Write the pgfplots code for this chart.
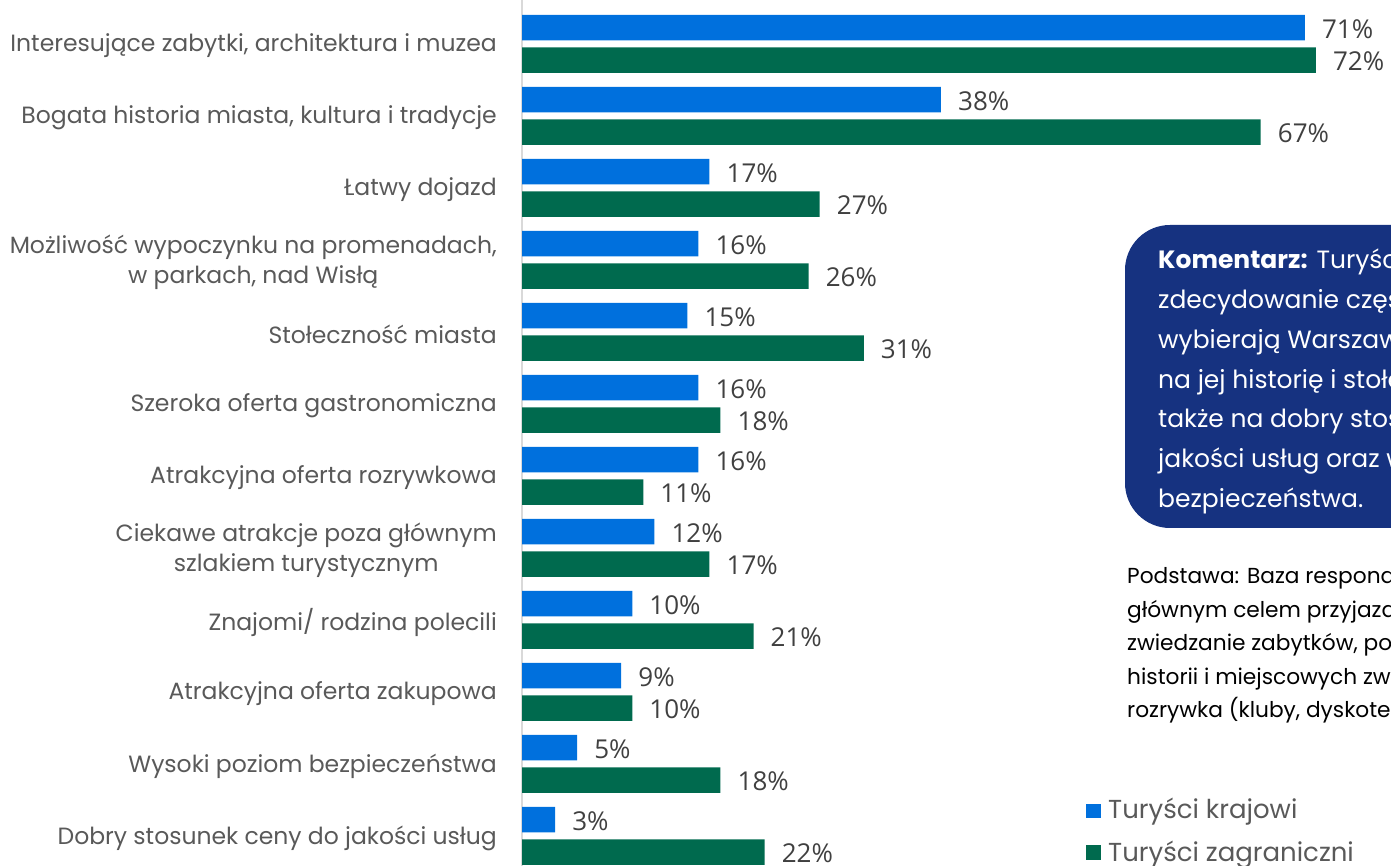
\documentclass[border=0pt]{standalone}
\usepackage{fontspec}
\setmainfont{Poppins}
\newfontfamily\numfont{Open Sans}
\usepackage{pgfplots}
\pgfplotsset{compat=1.18}
\definecolor{blueb}{RGB}{0,112,221}
\definecolor{greenb}{RGB}{0,106,78}
\definecolor{navy}{RGB}{22,50,128}
\definecolor{labelgray}{RGB}{89,89,89}
\definecolor{numgray}{RGB}{64,64,64}
\begin{document}
\begin{tikzpicture}[x=1pt,y=1pt]
\useasboundingbox (0,0) rectangle (1391,866);
\clip (0,0) rectangle (1391,866);
\begin{axis}[
  at={(522pt,0pt)}, anchor=south west,
  scale only axis, width=860pt, height=866pt,
  xbar, bar width=25.5pt,
  xmin=0, xmax=78, ymin=-0.4167, ymax=11.611,
  hide x axis, axis y line*=left,
  y axis line style={draw=black!15, line width=2pt},
  ytick={0,...,11}, major tick length=0pt,
  yticklabels={
    Dobry stosunek ceny do jakości usług,
    Wysoki poziom bezpieczeństwa,
    Atrakcyjna oferta zakupowa,
    Znajomi/ rodzina polecili,
    {Ciekawe atrakcje poza głównym\\szlakiem turystycznym},
    Atrakcyjna oferta rozrywkowa,
    Szeroka oferta gastronomiczna,
    Stołeczność miasta,
    {Możliwość wypoczynku na promenadach,\\w parkach, nad Wisłą},
    Łatwy dojazd,
    {Bogata historia miasta, kultura i tradycje},
    {Interesujące zabytki, architektura i muzea}},
  yticklabel style={align=center, anchor=east, inner sep=0pt, xshift=-25pt, yshift=-2pt,
    text=labelgray, font=\fontsize{23.5}{30}\selectfont},
  point meta=x,
  /pgf/number format/assume math mode=true,
  nodes near coords={\pgfmathprintnumber{\pgfplotspointmeta}\%},
  nodes near coords style={anchor=west, inner sep=0pt, xshift=17pt, yshift=-1pt,
    text=numgray, font=\numfont\fontsize{26}{30}\selectfont},
]
% Turyści krajowi
\addplot[fill=blueb, draw=none, bar shift=16.25pt] coordinates {
  (3,0) (5,1) (9,2) (10,3) (12,4) (16,5) (16,6) (15,7) (16,8) (17,9) (38,10) (71,11)};
% Turyści zagraniczni
\addplot[fill=greenb, draw=none, bar shift=-16.25pt] coordinates {
  (22,0) (18,1) (10,2) (21,3) (17,4) (11,5) (18,6) (31,7) (26,8) (27,9) (67,10) (72,11)};
\end{axis}

% comment box
\fill[navy, rounded corners=45pt] (1125,338) rectangle (1460,641);
\begin{scope}[every node/.style={anchor=base west, inner sep=0pt, text=white,
    font=\fontsize{25}{30}\selectfont}]
\node at (1158,597.0) {\textbf{Komentarz:} Turyści zagraniczni};
\node at (1158,557.3) {zdecydowanie częściej niż krajowi};
\node at (1158,517.6) {wybierają Warszawę ze względu};
\node at (1158,477.9) {na jej historię i stołeczność, a};
\node at (1158,438.2) {także na dobry stosunek ceny do};
\node at (1158,398.5) {jakości usług oraz wysoki poziom};
\node at (1158,358.8) {bezpieczeństwa.};
\end{scope}

% base note
\begin{scope}[every node/.style={anchor=base west, inner sep=0pt, text=black,
    font=\fontsize{21.7}{26}\selectfont}]
\node at (1127,282.0) {Podstawa: Baza respondentów, dla których};
\node at (1127,248.5) {głównym celem przyjazdu było};
\node at (1127,215.0) {zwiedzanie zabytków, poznawanie};
\node at (1127,181.5) {historii i miejscowych zwyczajów lub};
\node at (1127,148.0) {rozrywka (kluby, dyskoteki).};
\end{scope}

% legend
\fill[blueb] (1086,48) rectangle (1101,62);
\fill[greenb] (1086,6) rectangle (1101,21);
\node[anchor=base west, inner sep=0pt, text=labelgray, font=\fontsize{26}{30}\selectfont] at (1108,47) {Turyści krajowi};
\node[anchor=base west, inner sep=0pt, text=labelgray, font=\fontsize{26}{30}\selectfont] at (1108,4) {Turyści zagraniczni};
\end{tikzpicture}
\end{document}
